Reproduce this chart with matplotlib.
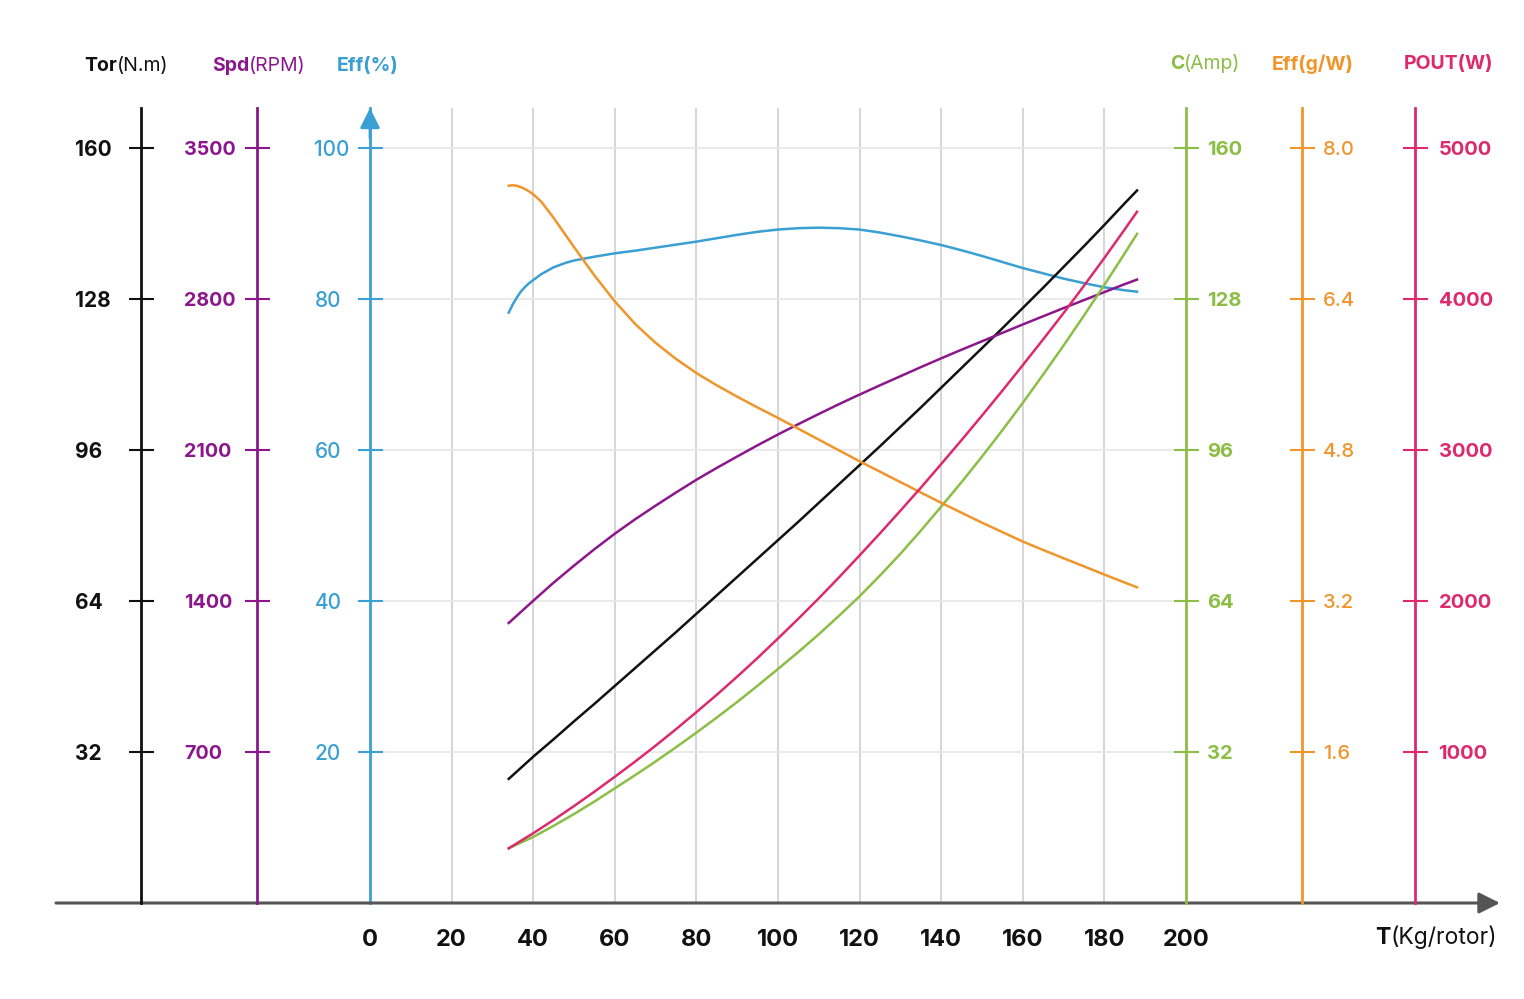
import matplotlib.pyplot as plt

plt.rcParams['font.family'] = ['Inter', 'DejaVu Sans']

# thrust T (kg/rotor) and the curves
thrust = [34, 40, 45, 50, 55, 60, 65, 70, 75, 80, 85, 90, 95, 100, 105, 110, 115, 120,
          125, 130, 135, 140, 145, 150, 155, 160, 165, 170, 175, 180, 185, 188]
torque = [26.3, 31.0, 34.7, 38.5, 42.2, 46.0, 49.8, 53.6, 57.4, 61.3, 65.2, 69.1, 73.0, 76.9, 80.8, 84.8,
          88.8, 92.8, 96.8, 100.9, 105.0, 109.2, 113.4, 117.6, 121.8, 126.1, 130.4, 134.8, 139.2, 143.7,
          148.3, 151.0]
speed = [1298, 1401, 1485, 1564, 1640, 1712, 1779, 1842, 1903, 1962, 2017, 2070, 2122, 2172, 2220, 2267,
         2313, 2357, 2400, 2442, 2484, 2525, 2565, 2604, 2643, 2682, 2720, 2758, 2795, 2832, 2869, 2890]
current = [11.6, 14.0, 16.35, 18.85, 21.5, 24.3, 27.1, 30.0, 33.0, 36.1, 39.3, 42.6, 46.05, 49.6, 53.2,
           56.95, 60.9, 65.0, 69.4, 74.0, 78.9, 84.0, 89.2, 94.6, 100.2, 106.0, 112.0, 118.15, 124.5, 131.0,
           137.7, 141.8]
power = [362, 462, 550, 642, 737, 836, 937, 1042, 1151, 1264, 1379, 1499, 1623, 1752, 1883, 2018, 2158,
         2302, 2448, 2598, 2750, 2907, 3066, 3228, 3393, 3562, 3733, 3907, 4088, 4272, 4462, 4578]

eff_x = [34, 35, 36, 37, 38, 39, 40, 42, 45, 48, 50, 55, 60, 65, 70, 75, 80, 85, 90, 95, 100, 105, 110,
         115, 120, 125, 130, 135, 140, 145, 150, 155, 160, 165, 170, 175, 180, 185, 188]
eff_pct = [78.2, 79.3, 80.2, 81.0, 81.6, 82.1, 82.5, 83.3, 84.2, 84.8, 85.1, 85.6, 86.05, 86.4, 86.8, 87.2,
           87.6, 88.05, 88.5, 88.9, 89.2, 89.38, 89.45, 89.38, 89.2, 88.8, 88.3, 87.75, 87.15, 86.45, 85.7,
           84.9, 84.1, 83.4, 82.7, 82.1, 81.55, 81.15, 80.97]

gw_x = [34, 35, 36, 37, 38, 39, 40, 42, 45, 50, 55, 60, 65, 70, 75, 80, 85, 90, 95, 100, 105, 110,
        115, 120, 125, 130, 135, 140, 145, 150, 155, 160, 165, 170, 175, 180, 185, 188]
eff_gw = [7.60, 7.605, 7.60, 7.585, 7.565, 7.54, 7.51, 7.43, 7.26, 6.95, 6.65, 6.375, 6.135, 5.935, 5.765,
          5.615, 5.485, 5.365, 5.25, 5.14, 5.025, 4.91, 4.795, 4.68, 4.57, 4.46, 4.35, 4.24, 4.135, 4.03,
          3.93, 3.83, 3.74, 3.653, 3.567, 3.48, 3.395, 3.345]

x_ticks = [0, 20, 40, 60, 80, 100, 120, 140, 160, 180, 200]
eff_ticks = [20, 40, 60, 80, 100]
tor_ticks = [32, 64, 96, 128, 160]
spd_ticks = [700, 1400, 2100, 2800, 3500]
c_ticks = [32, 64, 96, 128, 160]
gw_ticks = [1.6, 3.2, 4.8, 6.4, 8.0]
gw_labels = ['1.6', '3.2', '4.8', '6.4', '8.0']
pout_ticks = [1000, 2000, 3000, 4000, 5000]

BLACK = '#111111'
PURPLE = '#8c178c'
BLUE = '#3a9fd2'
GREEN = '#8cbe46'
ORANGE = '#f0952a'
PINK = '#dc2a6c'

W, H = 1524, 999
fig = plt.figure(figsize=(W / 100, H / 100), dpi=100)

# pixel layout: x=0 at 370px, 4.08 px per kg ; eff 0 at 903px, 7.55 px per %
xl = (56 - 370) / 4.08
xr = (1500 - 370) / 4.08
ytop = (903 - 108) / 7.55
ax = fig.add_axes([56 / W, (H - 903) / H, (1500 - 56) / W, (903 - 108) / H])
ax.set_xlim(xl, xr)
ax.set_ylim(0, ytop)
for s in ax.spines.values():
    s.set_visible(False)

ax.vlines(x_ticks[1:-1], 0, ytop, color='#d2d2d2', lw=1.3, zorder=0)
ax.hlines(eff_ticks, 0, 200, color='#e8e8e8', lw=1.3, zorder=0)

# x axis with arrow
ax.annotate('', xy=(xr, 0), xytext=(xl, 0),
            arrowprops=dict(arrowstyle='-|>', color='#555555', lw=2.2, mutation_scale=32,
                            shrinkA=0, shrinkB=0), annotation_clip=False)
ax.set_xticks(x_ticks)
ax.set_xticklabels([str(v) for v in x_ticks], fontsize=17, fontweight='bold', color=BLACK)
ax.tick_params(axis='x', length=0, pad=19)

# eff % axis (blue, with arrow head)
sp = ax.spines['left']
sp.set_visible(True)
sp.set_position(('data', 0))
sp.set_color(BLUE)
sp.set_linewidth(2)
ax.annotate('', xy=(0, ytop), xytext=(0, ytop - 4),
            arrowprops=dict(arrowstyle='-|>', color=BLUE, lw=2, mutation_scale=30,
                            shrinkA=0, shrinkB=0), annotation_clip=False)
ax.set_yticks(eff_ticks)
ax.set_yticklabels([str(v) for v in eff_ticks], ha='left', fontsize=15, fontweight='medium')
ax.tick_params(axis='y', direction='inout', length=18, width=1.5, color=BLUE, labelcolor=BLUE, pad=31)
ax.plot(eff_x, eff_pct, color=BLUE, lw=1.8, zorder=3)


def side_axis(vmax, xpos, color, ticks, labels, side, pad, weight, size):
    tw = ax.twinx()
    tw.set_ylim(0, vmax * ytop / 100)
    for s in tw.spines.values():
        s.set_visible(False)
    sp = tw.spines[side]
    sp.set_visible(True)
    sp.set_position(('data', xpos))
    sp.set_color(color)
    sp.set_linewidth(2)
    if side == 'left':
        tw.yaxis.tick_left()
    else:
        tw.yaxis.tick_right()
    tw.set_yticks(ticks)
    tw.set_yticklabels(labels, ha='left', fontsize=size, fontweight=weight)
    tw.tick_params(axis='y', direction='inout', length=18, width=1.5, color=color,
                   labelcolor=color, pad=pad)
    return tw


tor_ax = side_axis(160, (141 - 370) / 4.08, BLACK, tor_ticks, [str(v) for v in tor_ticks],
                   'left', 38.5, 'bold', 15)
tor_ax.plot(thrust, torque, color=BLACK, lw=1.8)

spd_ax = side_axis(3500, (257 - 370) / 4.08, PURPLE, spd_ticks, [str(v) for v in spd_ticks],
                   'left', 43.5, 'bold', 14.2)
spd_ax.plot(thrust, speed, color=PURPLE, lw=1.8)

c_ax = side_axis(160, 200, GREEN, c_ticks, [str(v) for v in c_ticks], 'right', 6, 'bold', 14.5)
c_ax.plot(thrust, current, color=GREEN, lw=1.8)

gw_ax = side_axis(8.0, (1302 - 370) / 4.08, ORANGE, gw_ticks, gw_labels, 'right', 6, 'medium', 14.5)
gw_ax.plot(gw_x, eff_gw, color=ORANGE, lw=1.8)

pout_ax = side_axis(5000, (1415 - 370) / 4.08, PINK, pout_ticks, [str(v) for v in pout_ticks],
                    'right', 8, 'bold', 14.5)
pout_ax.plot(thrust, power, color=PINK, lw=1.8)


def title(x, y, bold, rest, color, size=14):
    t = fig.text(x / W, 1 - y / H, bold, color=color, fontsize=size, fontweight='bold', va='center')
    if rest:
        plt.annotate(rest, xy=(1, 0), xycoords=t, va='bottom', ha='left',
                     color=color, fontsize=size, annotation_clip=False)
    return t


title(84, 66, 'Tor', '(N.m)', BLACK)
title(212, 66, 'Spd', '(RPM)', PURPLE)
title(337, 66, 'Eff(%)', '', BLUE)
title(1170, 64, 'C', '(Amp)', GREEN)
title(1272, 64, 'Eff(g/W)', '', ORANGE)
title(1404, 64, 'POUT(W)', '', PINK)
title(1375, 938, 'T', '(Kg/rotor)', BLACK, size=16.5)

fig.savefig('out.png', dpi=100)
